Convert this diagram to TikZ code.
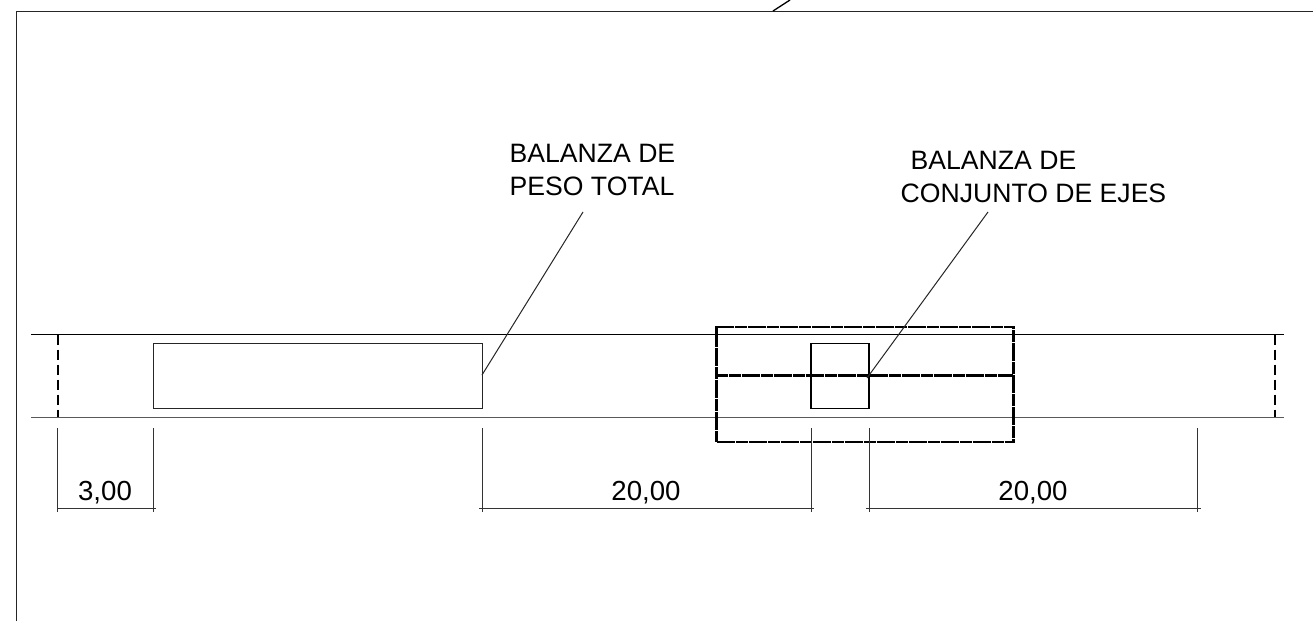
\documentclass[tikz,border=0pt]{standalone}
\usepackage{fontspec}
\setmainfont{Liberation Sans}
\tikzset{
  thin line/.style={line width=1pt,black!85},
  road dash/.style={line width=2pt,black,dash pattern=on 10pt off 5pt},
  thick dash/.style={line width=2.8pt,black,dash pattern=on 6pt off 0.4pt},
  label text/.style={inner sep=0pt,anchor=base west,font=\fontsize{26.6}{26.6}\selectfont},
  dim text/.style={inner sep=0pt,anchor=base,font=\fontsize{27.6}{27.6}\selectfont},
  tick/.style={line width=1pt,black!80}
}
\begin{document}
\begin{tikzpicture}[x=1pt,y=-1pt]
\useasboundingbox (0,0) rectangle (1313,621);
\fill[white] (0,0) rectangle (1313,621);
% frame
\draw[thin line] (16,621) -- (16,11) -- (1313,11);
\coordinate (s1) at (773,11); \coordinate (s2) at (790,0);
\draw[line width=1.3pt,black] (s1) -- (s2);
% road
\coordinate (rtl) at (31,334.5); \coordinate (rtr) at (1284,334.5);
\coordinate (rbl) at (31,417); \coordinate (rbr) at (1284,417);
\draw[line width=1.2pt,black] (rtl) -- (rtr);
\draw[line width=1pt,black!65] (rbl) -- (rbr);
\draw[road dash] (57.5,334.5) -- (57.5,417);
\draw[road dash] (1274.5,334.5) -- (1274.5,417);
% scales
\node[draw,thin line,minimum width=329pt,minimum height=65pt,inner sep=0pt,anchor=north west] (total) at (153,343) {};
\node[draw,line width=1.8pt,black,minimum width=58pt,minimum height=65pt,inner sep=0pt,anchor=north west] (ejes) at (810.4,342.6) {};
\node[draw,thick dash,minimum width=297pt,minimum height=115pt,inner sep=0pt,anchor=north west] (zona) at (715.2,325.6) {};
\coordinate (ml) at (716,375.5); \coordinate (mr) at (1013,375.5);
\draw[thick dash] (ml) -- (mr);
% texts
\node[label text] (t1) at (509.5,162.6) {BALANZA DE};
\node[label text] (t2) at (509.5,195.6) {PESO TOTAL};
\node[label text] (t3) at (910.5,169.6) {BALANZA DE};
\node[label text] (t4) at (900.5,202.6) {CONJUNTO DE EJES};
% leaders
\coordinate (l1) at (583,212); \coordinate (l2) at (988,212);
\draw[thin line] (l1) -- (482,375);
\draw[thin line] (l2) -- (867,378);
% dimensions
\foreach \x in {57.5,153,482,811,869,1197}{
  \draw[tick] (\x,428) -- (\x,512);
}
\draw[tick] (57.5,508) -- (156,508);
\draw[tick] (479,508) -- (814,508);
\draw[tick] (866,508) -- (1201,508);
\node[dim text] (d1) at (105,500.6) {3,00};
\node[dim text] (d2) at (646,500.6) {20,00};
\node[dim text] (d3) at (1033,500.6) {20,00};
\end{tikzpicture}
\end{document}
